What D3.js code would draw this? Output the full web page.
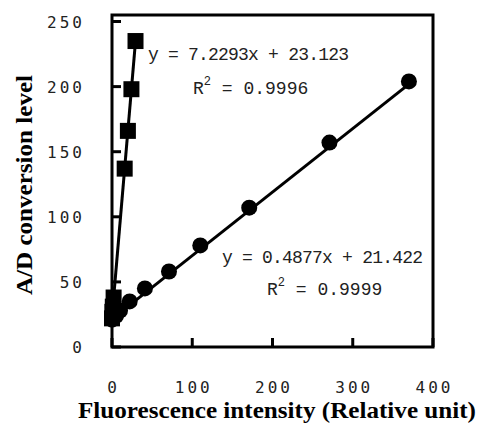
<!DOCTYPE html>
<html>
<head>
<meta charset="utf-8">
<script src="https://cdn.jsdelivr.net/npm/d3@7"></script>
<style>
  body { margin: 0; background: #fff; }
  svg { display: block; }
</style>
</head>
<body>
<div id="chart"></div>
<script>
const width = 479;
const height = 423;

// square series (steep)
const squareX = [0, 0.5, 1, 2, 15.8, 19.8, 24.2, 29.3];
const squareY = [22, 27, 31, 38, 137, 166, 198, 235];
// circle series
const circleX = [0, 5, 10, 22, 41, 71, 110, 171, 271, 370];
const circleY = [21, 24, 28, 35, 45, 58, 78, 107, 157, 204];

// trendlines as labelled on the chart
const squareFit = { slope: 7.2293, intercept: 23.123, xMax: 29.3, r2: "0.9996" };
const circleFit = { slope: 0.4877, intercept: 21.422, xMax: 370, r2: "0.9999" };

const xTicks = [0, 100, 200, 300, 400];
const yTicks = [0, 50, 100, 150, 200, 250];

const x = d3.scaleLinear().domain([0, 400]).range([112, 433]);
const y = d3.scaleLinear().domain([0, 255]).range([347, 15]);

const svg = d3.select("#chart")
    .append("svg")
    .attr("width", width)
    .attr("height", height);

// frame
svg.append("rect")
    .attr("x", x(0))
    .attr("y", y(255))
    .attr("width", x(400) - x(0))
    .attr("height", y(0) - y(255))
    .attr("fill", "none")
    .attr("stroke", "#000")
    .attr("stroke-width", 3);

// ticks (inward)
svg.selectAll(".ytick")
    .data(yTicks)
    .enter()
    .append("line")
    .attr("x1", x(0))
    .attr("x2", x(0) + 9)
    .attr("y1", d => y(d))
    .attr("y2", d => y(d))
    .attr("stroke", "#000")
    .attr("stroke-width", 3);

svg.selectAll(".xtick")
    .data(xTicks)
    .enter()
    .append("line")
    .attr("x1", d => x(d))
    .attr("x2", d => x(d))
    .attr("y1", y(0))
    .attr("y2", y(0) - 9)
    .attr("stroke", "#000")
    .attr("stroke-width", 3);

// tick labels
svg.selectAll(".ylabel")
    .data(yTicks)
    .enter()
    .append("text")
    .attr("x", 85)
    .attr("y", d => y(d) + 6)
    .attr("text-anchor", "end")
    .style("font-family", "'DejaVu Sans Mono', monospace")
    .style("font-size", "16px")
    .style("letter-spacing", "3px")
    .attr("fill", "#222")
    .text(d => d);

svg.selectAll(".xlabel")
    .data(xTicks)
    .enter()
    .append("text")
    .attr("x", d => x(d) + 1.5)
    .attr("y", 393)
    .attr("text-anchor", "middle")
    .style("font-family", "'DejaVu Sans Mono', monospace")
    .style("font-size", "16px")
    .style("letter-spacing", "3px")
    .attr("fill", "#222")
    .text(d => d);

// axis titles
svg.append("text")
    .attr("x", 277)
    .attr("y", 418)
    .attr("text-anchor", "middle")
    .attr("textLength", 398)
    .attr("lengthAdjust", "spacingAndGlyphs")
    .style("font-family", "'Liberation Serif', 'Times New Roman', serif")
    .style("font-weight", "bold")
    .style("font-size", "23px")
    .text("Fluorescence intensity (Relative unit)");

svg.append("text")
    .attr("transform", "translate(32,185) rotate(-90)")
    .attr("text-anchor", "middle")
    .attr("textLength", 220)
    .attr("lengthAdjust", "spacingAndGlyphs")
    .style("font-family", "'Liberation Serif', 'Times New Roman', serif")
    .style("font-weight", "bold")
    .style("font-size", "23px")
    .text("A/D conversion level");

// trendlines
[squareFit, circleFit].forEach(f => {
    svg.append("line")
        .attr("x1", x(0))
        .attr("y1", y(f.intercept))
        .attr("x2", x(f.xMax))
        .attr("y2", y(f.slope * f.xMax + f.intercept))
        .attr("stroke", "#000")
        .attr("stroke-width", 3);
});

// markers
const circles = circleX.map((v, i) => ({ x: v, y: circleY[i] }));
svg.selectAll(".dot")
    .data(circles)
    .enter()
    .append("circle")
    .attr("cx", d => x(d.x))
    .attr("cy", d => y(d.y))
    .attr("r", 8)
    .attr("fill", "#000");

const squares = squareX.map((v, i) => ({ x: v, y: squareY[i] }));
svg.selectAll(".sq")
    .data(squares)
    .enter()
    .append("rect")
    .attr("x", d => x(d.x) - 8)
    .attr("y", d => y(d.y) - 8)
    .attr("width", 16)
    .attr("height", 16)
    .attr("fill", "#000");

// equation labels
function equation(x0, y0, text, rx, ry, r2) {
    svg.append("text")
        .attr("x", x0)
        .attr("y", y0)
        .attr("textLength", 201)
        .attr("lengthAdjust", "spacing")
        .style("font-family", "'Liberation Mono', 'Courier New', monospace")
        .style("font-size", "18px")
        .attr("fill", "#222")
        .text(text);
    const t = svg.append("text")
        .attr("x", rx)
        .attr("y", ry)
        .style("font-family", "'Liberation Mono', 'Courier New', monospace")
        .style("font-size", "18px")
        .attr("fill", "#222");
    t.append("tspan").text("R");
    t.append("tspan").attr("dy", -9).style("font-size", "12px").text("2");
    t.append("tspan").attr("dy", 9).text(" = " + r2);
}

equation(148, 60, "y = 7.2293x + 23.123", 193, 94, squareFit.r2);
equation(222, 263, "y = 0.4877x + 21.422", 267, 295, circleFit.r2);
</script>
</body>
</html>
